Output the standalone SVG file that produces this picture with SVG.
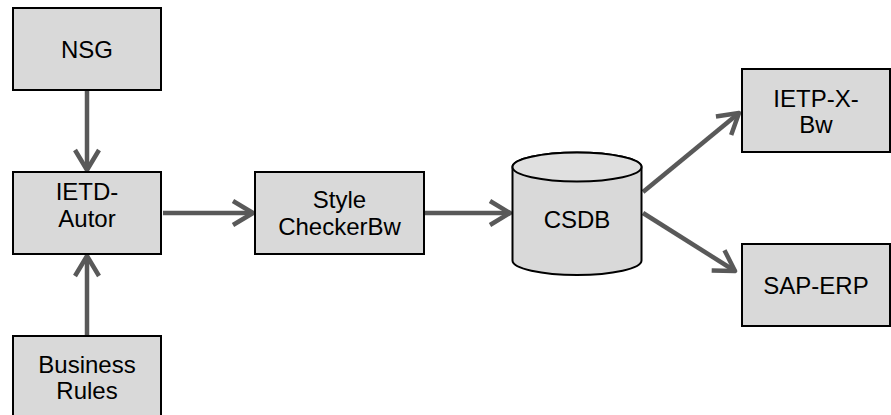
<svg xmlns="http://www.w3.org/2000/svg" width="891" height="415" viewBox="0 0 891 415">
<style>
.box{fill:#d9d9d9;stroke:#000;stroke-width:2}
.t{font-family:"Liberation Sans",Arial,sans-serif;font-size:24px;fill:#000;text-anchor:middle}
.c{fill:none;stroke:#595959;stroke-width:4.5}
</style>
<defs>
<marker id="ah" markerUnits="userSpaceOnUse" markerWidth="30" markerHeight="30" viewBox="-24 -15 28 30" refX="0" refY="0" orient="auto" overflow="visible">
<path d="M-20,-12 L0,0 L-20,12" fill="none" stroke="#595959" stroke-width="4.5" stroke-linejoin="round"/>
</marker>
</defs>
<rect width="891" height="415" fill="#fff"/>
<g id="connectors">
<line class="c" x1="87" y1="91" x2="87" y2="170" marker-end="url(#ah)"/>
<line class="c" x1="87" y1="336" x2="87" y2="256" marker-end="url(#ah)"/>
<line class="c" x1="163" y1="213" x2="253" y2="213" marker-end="url(#ah)"/>
<line class="c" x1="425" y1="213" x2="510" y2="213" marker-end="url(#ah)"/>
<line class="c" x1="643" y1="192" x2="739" y2="113" marker-end="url(#ah)"/>
<line class="c" x1="643" y1="213" x2="735" y2="271" marker-end="url(#ah)"/>
</g>
<g id="NSG">
<rect class="box" x="13" y="8" width="148" height="82"/>
<text class="t" x="87" y="57.5">NSG</text>
</g>
<g id="IETD-Autor">
<rect class="box" x="13" y="172" width="148" height="82"/>
<text class="t" x="87" y="200">IETD-</text>
<text class="t" x="87" y="226.5">Autor</text>
</g>
<g id="BusinessRules">
<rect class="box" x="13" y="336" width="148" height="90"/>
<text class="t" x="87" y="373">Business</text>
<text class="t" x="87" y="399">Rules</text>
</g>
<g id="StyleCheckerBw">
<rect class="box" x="255" y="172" width="169" height="82"/>
<text class="t" x="339.5" y="208">Style</text>
<text class="t" x="339.5" y="235">CheckerBw</text>
</g>
<g id="CSDB">
<path class="box" d="M512.5,167 L512.5,260.5 A64.5,14.5 0 0 0 641.5,260.5 L641.5,167 A64.5,14.5 0 0 0 512.5,167 Z"/>
<ellipse cx="577" cy="167" rx="64.5" ry="14.5" fill="#e0e0e0" stroke="#000" stroke-width="2"/>
<text class="t" x="577" y="227.5">CSDB</text>
</g>
<g id="IETP-X-Bw">
<rect class="box" x="742" y="69" width="148" height="83"/>
<text class="t" x="816" y="106.5">IETP-X-</text>
<text class="t" x="816" y="132.5">Bw</text>
</g>
<g id="SAP-ERP">
<rect class="box" x="742" y="244" width="148" height="82"/>
<text class="t" x="816" y="294">SAP-ERP</text>
</g>
</svg>
